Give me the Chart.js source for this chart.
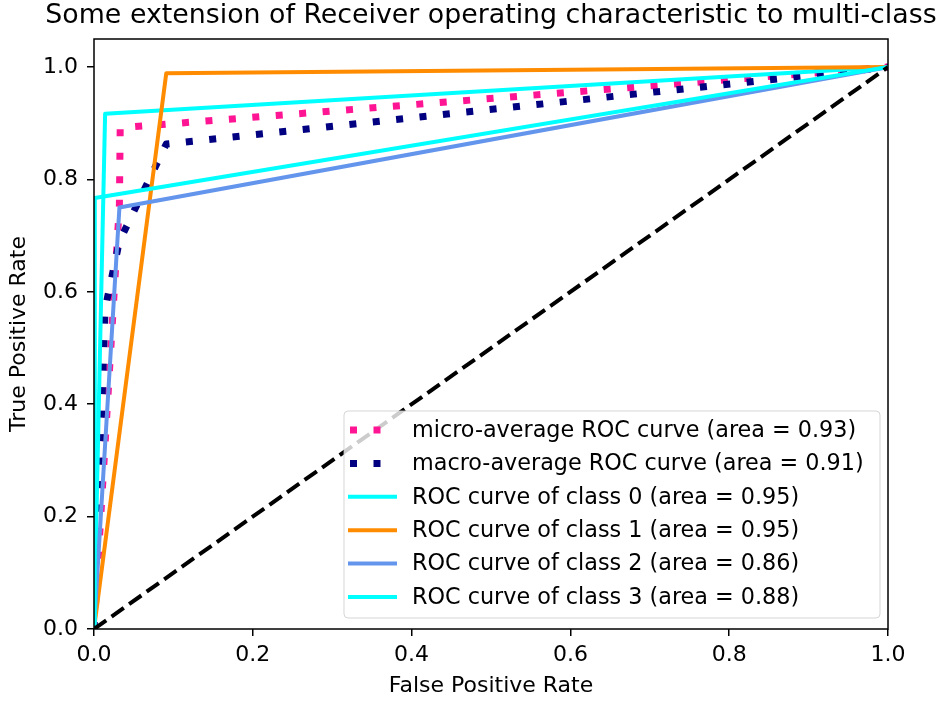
<!DOCTYPE html>
<html>
<head>
<meta charset="utf-8">
<script src="https://cdn.jsdelivr.net/npm/chart.js@4.4.0/dist/chart.umd.min.js"></script>
<style>
  html, body { margin: 0; padding: 0; background: #fff; }
</style>
</head>
<body>
<canvas id="roc" width="939" height="702"></canvas>
<script>
// ---- data ----
const titleText = 'Some extension of Receiver operating characteristic to multi-class';
const xTicks = [0, 0.2, 0.4, 0.6, 0.8, 1.0];
const yTicks = [0, 0.2, 0.4, 0.6, 0.8, 1.0];

const microFpr = [0, 0.032, 0.033, 1];
const microTpr = [0, 0.755, 0.892, 1];
const macroFpr = [0, 0.014, 0.032, 0.091, 1];
const macroTpr = [0, 0.57, 0.69, 0.863, 1];
const class0Fpr = [0, 0.014, 1];
const class0Tpr = [0, 0.917, 1];
const class1Fpr = [0, 0.091, 1];
const class1Tpr = [0, 0.989, 1];
const class2Fpr = [0, 0.032, 1];
const class2Tpr = [0, 0.750, 1];
const class3Fpr = [0, 0.001, 1];
const class3Tpr = [0, 0.767, 1];
const chanceFpr = [0, 1];
const chanceTpr = [0, 1];

const legendLabels = [
    'micro-average ROC curve (area = 0.93)',
    'macro-average ROC curve (area = 0.91)',
    'ROC curve of class 0 (area = 0.95)',
    'ROC curve of class 1 (area = 0.95)',
    'ROC curve of class 2 (area = 0.86)',
    'ROC curve of class 3 (area = 0.88)'
];

const FONT = '"DejaVu Sans", sans-serif';

// ---- series styling ----
const series = [
    { fpr: microFpr,  tpr: microTpr,  color: '#ff1493', width: 7, dash: [7, 16.5], label: legendLabels[0] },
    { fpr: macroFpr,  tpr: macroTpr,  color: '#000080', width: 7, dash: [7, 16.5], label: legendLabels[1] },
    { fpr: class0Fpr, tpr: class0Tpr, color: '#00ffff', width: 4, dash: [],        label: legendLabels[2] },
    { fpr: class1Fpr, tpr: class1Tpr, color: '#ff8c00', width: 4, dash: [],        label: legendLabels[3] },
    { fpr: class2Fpr, tpr: class2Tpr, color: '#6495ed', width: 4, dash: [],        label: legendLabels[4] },
    { fpr: class3Fpr, tpr: class3Tpr, color: '#00ffff', width: 4, dash: [],        label: legendLabels[5] },
    { fpr: chanceFpr, tpr: chanceTpr, color: '#000000', width: 4, dash: [15, 6.5], label: null }
];

const datasets = series.map((s, i) => ({
    label: s.label || '',
    data: s.fpr.map((x, j) => ({ x: x, y: s.tpr[j] })),
    showLine: true,
    borderColor: s.color,
    backgroundColor: s.color,
    borderWidth: s.width,
    borderDash: s.dash,
    borderCapStyle: s.dash.length ? 'butt' : 'square',
    borderJoinStyle: 'round',
    pointRadius: 0,
    pointHoverRadius: 0,
    tension: 0,
    clip: 0,
    order: series.length - i   // later series drawn on top, like matplotlib
}));

// title centred over the axes, allowed to run past them (like matplotlib)
const axesTitle = {
    id: 'axesTitle',
    afterDraw(chart) {
        const { ctx, chartArea: a } = chart;
        ctx.save();
        ctx.font = '26.8px ' + FONT;
        ctx.fillStyle = '#000';
        ctx.textAlign = 'center';
        ctx.textBaseline = 'alphabetic';
        ctx.fillText(titleText, (a.left + a.right) / 2, 23);
        ctx.restore();
    }
};

// frame around the plot area (all four spines)
const frame = {
    id: 'frame',
    afterDatasetsDraw(chart) {
        const { ctx, chartArea: a } = chart;
        ctx.save();
        ctx.strokeStyle = '#000';
        ctx.lineWidth = 1.5;
        ctx.strokeRect(a.left, a.top, a.right - a.left, a.bottom - a.top);
        ctx.restore();
    }
};

// matplotlib-style legend, lower right inside the axes
const rocLegend = {
    id: 'rocLegend',
    afterDatasetsDraw(chart) {
        const { ctx, chartArea: a } = chart;
        const items = series.filter(s => s.label);
        const w = 536, h = 207, rowH = 33.4;
        const x0 = a.right - 8 - w;
        const y0 = a.bottom - 11 - h;
        ctx.save();
        ctx.beginPath();
        ctx.roundRect(x0, y0, w, h, 4);
        ctx.fillStyle = 'rgba(255,255,255,0.8)';
        ctx.fill();
        ctx.strokeStyle = 'rgba(204,204,204,0.8)';
        ctx.lineWidth = 1;
        ctx.stroke();

        ctx.font = '22.3px ' + FONT;
        ctx.textBaseline = 'middle';
        ctx.textAlign = 'left';
        items.forEach((s, i) => {
            const cy = y0 + 19 + i * rowH;
            ctx.beginPath();
            ctx.setLineDash(s.dash);
            ctx.lineCap = s.dash.length ? 'butt' : 'square';
            ctx.strokeStyle = s.color;
            ctx.lineWidth = s.width;
            ctx.moveTo(x0 + 6, cy);
            ctx.lineTo(x0 + 51, cy);
            ctx.stroke();
            ctx.setLineDash([]);
            ctx.fillStyle = '#000';
            ctx.fillText(s.label, x0 + 68, cy + 1);
        });
        ctx.restore();
    }
};

const tickFont = { family: FONT, size: 22 };

new Chart(document.getElementById('roc').getContext('2d'), {
    type: 'scatter',
    data: { datasets: datasets },
    options: {
        responsive: false,
        animation: false,
        events: [],
        layout: { padding: { top: 39, left: 0, right: 51, bottom: 0 } },
        plugins: {
            legend: { display: false },
            tooltip: { enabled: false },
            title: { display: false }
        },
        scales: {
            x: {
                type: 'linear',
                min: 0,
                max: 1,
                afterBuildTicks: s => { s.ticks = xTicks.map(v => ({ value: v })); },
                afterFit: s => { s.height = 73; },
                border: { display: false },
                grid: { drawOnChartArea: false, drawTicks: true, tickLength: 7, color: '#000', lineWidth: 1.5 },
                ticks: { color: '#000', font: tickFont, padding: 6, maxRotation: 0, callback: v => v.toFixed(1) },
                title: { display: true, text: 'False Positive Rate', color: '#000', font: tickFont, padding: { top: 0, bottom: 3 } }
            },
            y: {
                type: 'linear',
                min: 0,
                max: 1.05,
                afterBuildTicks: s => { s.ticks = yTicks.map(v => ({ value: v })); },
                afterFit: s => { s.width = 94; },
                border: { display: false },
                grid: { drawOnChartArea: false, drawTicks: true, tickLength: 7, color: '#000', lineWidth: 1.5 },
                ticks: { color: '#000', font: tickFont, padding: 9, callback: v => v.toFixed(1) },
                title: { display: true, text: 'True Positive Rate', color: '#000', font: tickFont, padding: { top: 6, bottom: 0 } }
            }
        }
    },
    plugins: [frame, rocLegend, axesTitle]
});
</script>
</body>
</html>
